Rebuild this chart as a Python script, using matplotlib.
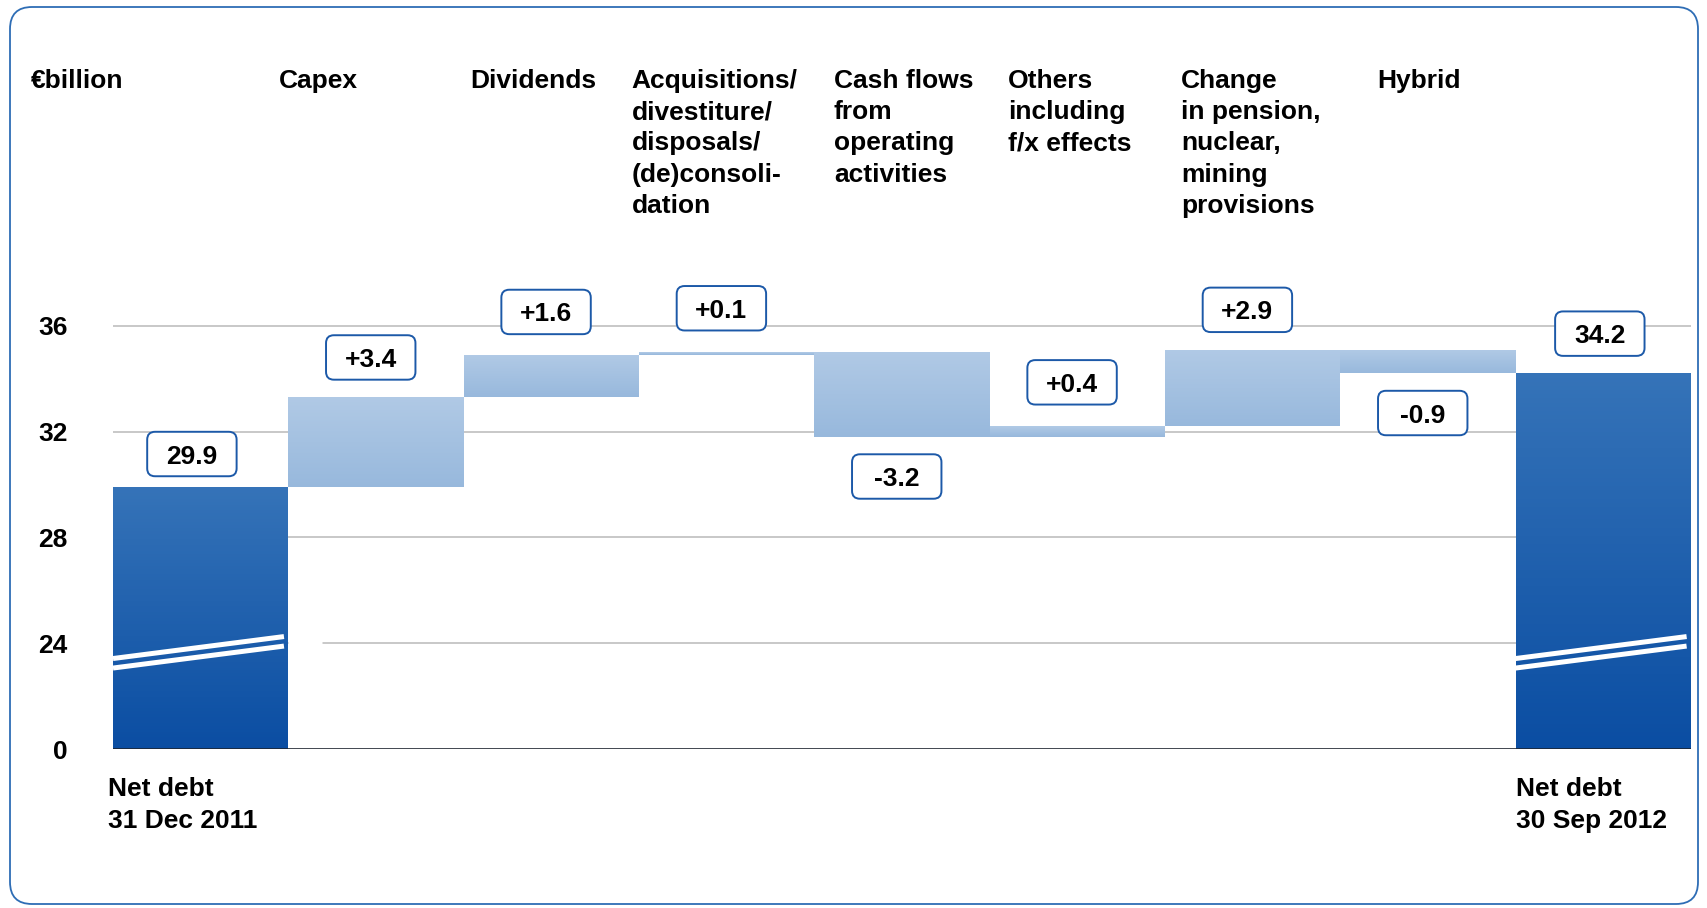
import numpy as np
import matplotlib
matplotlib.use("Agg")
import matplotlib.pyplot as plt
from matplotlib.patches import FancyBboxPatch
from matplotlib.colors import to_rgb

plt.rcParams['font.family'] = ['Liberation Sans', 'DejaVu Sans']

# ---------------- data ----------------
headers = ["€billion", "Capex", "Dividends",
           "Acquisitions/\ndivestiture/\ndisposals/\n(de)consoli-\ndation",
           "Cash flows\nfrom\noperating\nactivities",
           "Others\nincluding\nf/x effects",
           "Change\nin pension,\nnuclear,\nmining\nprovisions",
           "Hybrid"]
start_label = "Net debt\n31 Dec 2011"
end_label = "Net debt\n30 Sep 2012"
start_value = 29.9
changes = [3.4, 1.6, 0.1, -3.2, 0.4, 2.9, -0.9]
change_labels = ["+3.4", "+1.6", "+0.1", "-3.2", "+0.4", "+2.9", "-0.9"]
end_value = 34.2
start_text = "29.9"
end_text = "34.2"
ytick_values = [0, 24, 28, 32, 36]

# ---------------- layout ----------------
W, H = 1707, 908
DPI = 100
FS = 19
DARK_TOP, DARK_BOT = np.array(to_rgb('#3573b8')), np.array(to_rgb('#0a4da2'))
LIGHT_TOP, LIGHT_BOT = np.array(to_rgb('#b0c9e5')), np.array(to_rgb('#97b8dc'))
BOX_EC = '#1c59a8'
# vertical gap between bar end and label box centre (layout only)
start_gap, end_gap = 1.25, 1.5
change_gaps = [1.5, 1.62, 1.66, 1.5, 1.66, 1.5, 1.5]

BREAK = 24.0


def fwd(v):
    v = np.asarray(v, float)
    return np.where(v < BREAK, 20.0 + v / 6.0, v)


def inv(p):
    p = np.asarray(p, float)
    return np.where(p < BREAK, (p - 20.0) * 6.0, p)


fig = plt.figure(figsize=(W / DPI, H / DPI), dpi=DPI)
ax_left, ax_right = 113 / W, 1691 / W
ax_bot, ax_top = (H - 749) / H, (H - 272.8) / H
ax = fig.add_axes([ax_left, ax_bot, ax_right - ax_left, ax_top - ax_bot])
ax.set_yscale('function', functions=(fwd, inv))
ax.set_ylim(0, 38)
ax.set_xlim(-0.5, 8.5)
for s in ax.spines.values():
    s.set_visible(False)
ax.set_xticks([])
ax.set_yticks(ytick_values)
ax.set_yticklabels([str(v) for v in ytick_values], fontsize=FS, fontweight='bold')
ax.tick_params(axis='y', length=0, pad=32.5)
ax.yaxis.set_minor_locator(matplotlib.ticker.NullLocator())

for v in ytick_values[1:]:
    ax.axhline(v, color='#bfbfbf', lw=1.2, zorder=1)


def grad_bar(x, lo, hi, ctop, cbot, n=90):
    plo, phi = float(fwd(lo)), float(fwd(hi))
    edges = np.linspace(plo, phi, n + 1)
    dedges = inv(edges)
    t = ((edges[:-1] + edges[1:]) / 2 - plo) / (phi - plo)
    cols = [tuple(cbot * (1 - tt) + ctop * tt) for tt in t]
    ax.bar(np.full(n, x), np.diff(dedges), bottom=dedges[:-1], width=1.0,
           color=cols, linewidth=0, antialiased=False, zorder=2)


levels = np.concatenate([[start_value], start_value + np.cumsum(changes)])

# start & end bars
grad_bar(0, 0, start_value, DARK_TOP, DARK_BOT)
grad_bar(len(changes) + 1, 0, end_value, DARK_TOP, DARK_BOT)
# floating bars
for i, c in enumerate(changes):
    lo, hi = sorted([levels[i], levels[i + 1]])
    grad_bar(i + 1, lo, hi, LIGHT_TOP, LIGHT_BOT)

# break marks on full bars
for xc in [0, len(changes) + 1]:
    for p0, p1 in [(23.42, 24.25), (23.06, 23.89)]:
        ax.plot([xc - 0.5, xc + 0.475], inv([p0, p1]), color='white', lw=3.6,
                solid_capstyle='butt', zorder=4)
# small gap in the 24 gridline right of the first bar
ax.plot([0.5, 0.69], [BREAK, BREAK], color='white', lw=2.2, zorder=1.5,
        solid_capstyle='butt')

ax.axhline(0, color='#1e2630', lw=1.9, zorder=6)

# value boxes
BOX_W, BOX_H = 0.51, 1.68


def value_box(xc, yc, txt):
    patch = FancyBboxPatch((xc - BOX_W / 2, yc - BOX_H / 2), BOX_W, BOX_H,
                           boxstyle="round,pad=0,rounding_size=0.045",
                           mutation_aspect=6.6, fc='white', ec=BOX_EC, lw=1.4, zorder=7)
    ax.add_patch(patch)
    ax.text(xc, yc - 0.36, txt, ha='center', va='baseline', fontsize=FS,
            fontweight='bold', color='black', zorder=8)


value_box(0 - 0.05, start_value + start_gap, start_text)
value_box(len(changes) + 1 - 0.02, end_value + end_gap, end_text)
for i, c in enumerate(changes):
    lo, hi = sorted([levels[i], levels[i + 1]])
    yc = hi + change_gaps[i] if c >= 0 else lo - change_gaps[i]
    value_box(i + 1 - 0.03, yc, change_labels[i])

# headers
header_px = [31, 279, 470, 631.5, 834, 1008, 1181, 1377]
for xp, h in zip(header_px, headers):
    fig.text(xp / W, 1 - 69 / H, h, ha='left', va='top', fontsize=FS,
             fontweight='bold', linespacing=1.38)

fig.text(108 / W, 1 - 777.5 / H, start_label, ha='left', va='top', fontsize=FS,
         fontweight='bold', linespacing=1.41)
fig.text(1515.5 / W, 1 - 777.5 / H, end_label, ha='left', va='top', fontsize=FS,
         fontweight='bold', linespacing=1.41)

# rounded frame
frame = FancyBboxPatch((10 / W, 4 / H), 1688 / W, 897 / H,
                       boxstyle="round,pad=0,rounding_size=%f" % (22 / W),
                       mutation_aspect=W / H, transform=fig.transFigure,
                       fc='none', ec='#2e6db5', lw=1.3, zorder=0)
fig.patches.append(frame)

fig.savefig('out.png', dpi=DPI)
